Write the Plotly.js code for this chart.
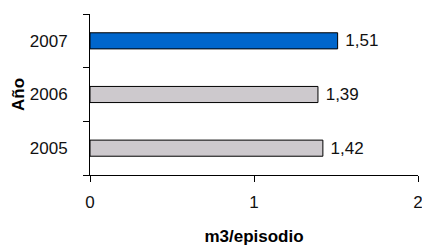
<!DOCTYPE html>
<html><head><meta charset="utf-8">
<script src="https://cdn.plot.ly/plotly-3.0.1.min.js"></script>
<style>html,body{margin:0;padding:0;background:#fff;}#chart{width:422px;height:246px;}</style>
</head><body><div id="chart"></div>
<script>
const years = ['2005', '2006', '2007'];
const values = [1.42, 1.39, 1.51];
const barColors = ['#cdc9cd', '#cdc9cd', '#0066cc'];
const xTickVals = [0, 1, 2];
const xTitle = 'm3/episodio';
const yTitle = 'Año';

const font = {family: '"Liberation Sans", Arial, sans-serif', size: 17, color: '#111'};
const trace = {
  type: 'bar', orientation: 'h',
  y: years, x: values,
  marker: {color: barColors, line: {color: '#000', width: 1}},
  width: 0.3,
  texttemplate: '\u00a0%{x:.2f}', textposition: 'outside', cliponaxis: false,
  constraintext: 'none',
  textfont: font, hoverinfo: 'none'
};
const layout = {
  width: 422, height: 246,
  margin: {l: 90, r: 4, t: 14, b: 71},
  paper_bgcolor: '#fff', plot_bgcolor: '#fff',
  font: font, separators: ',.', showlegend: false,
  xaxis: {
    range: [0, 2], tickvals: xTickVals, ticks: 'outside', ticklen: 6, tickcolor: '#000',
    showline: true, linecolor: '#000', linewidth: 1, showgrid: false, zeroline: false,
    ticklabelstandoff: 6, ticklabeloverflow: 'allow',
    title: {text: xTitle, font: {family: font.family, size: 17, color: '#000', weight: 'bold'}, standoff: 19}
  },
  yaxis: {
    type: 'category', categoryorder: 'array', categoryarray: years, range: [-0.5, 2.5],
    ticks: 'outside', tickson: 'boundaries', ticklen: 6, tickcolor: '#000',
    showline: true, linecolor: '#000', linewidth: 1, showgrid: false, zeroline: false,
    ticklabelstandoff: 18,
    title: {text: yTitle, font: {family: font.family, size: 17, color: '#000', weight: 'bold'}, standoff: 0}
  }
};
Plotly.newPlot('chart', [trace], layout, {staticPlot: true, displayModeBar: false});
</script></body></html>
